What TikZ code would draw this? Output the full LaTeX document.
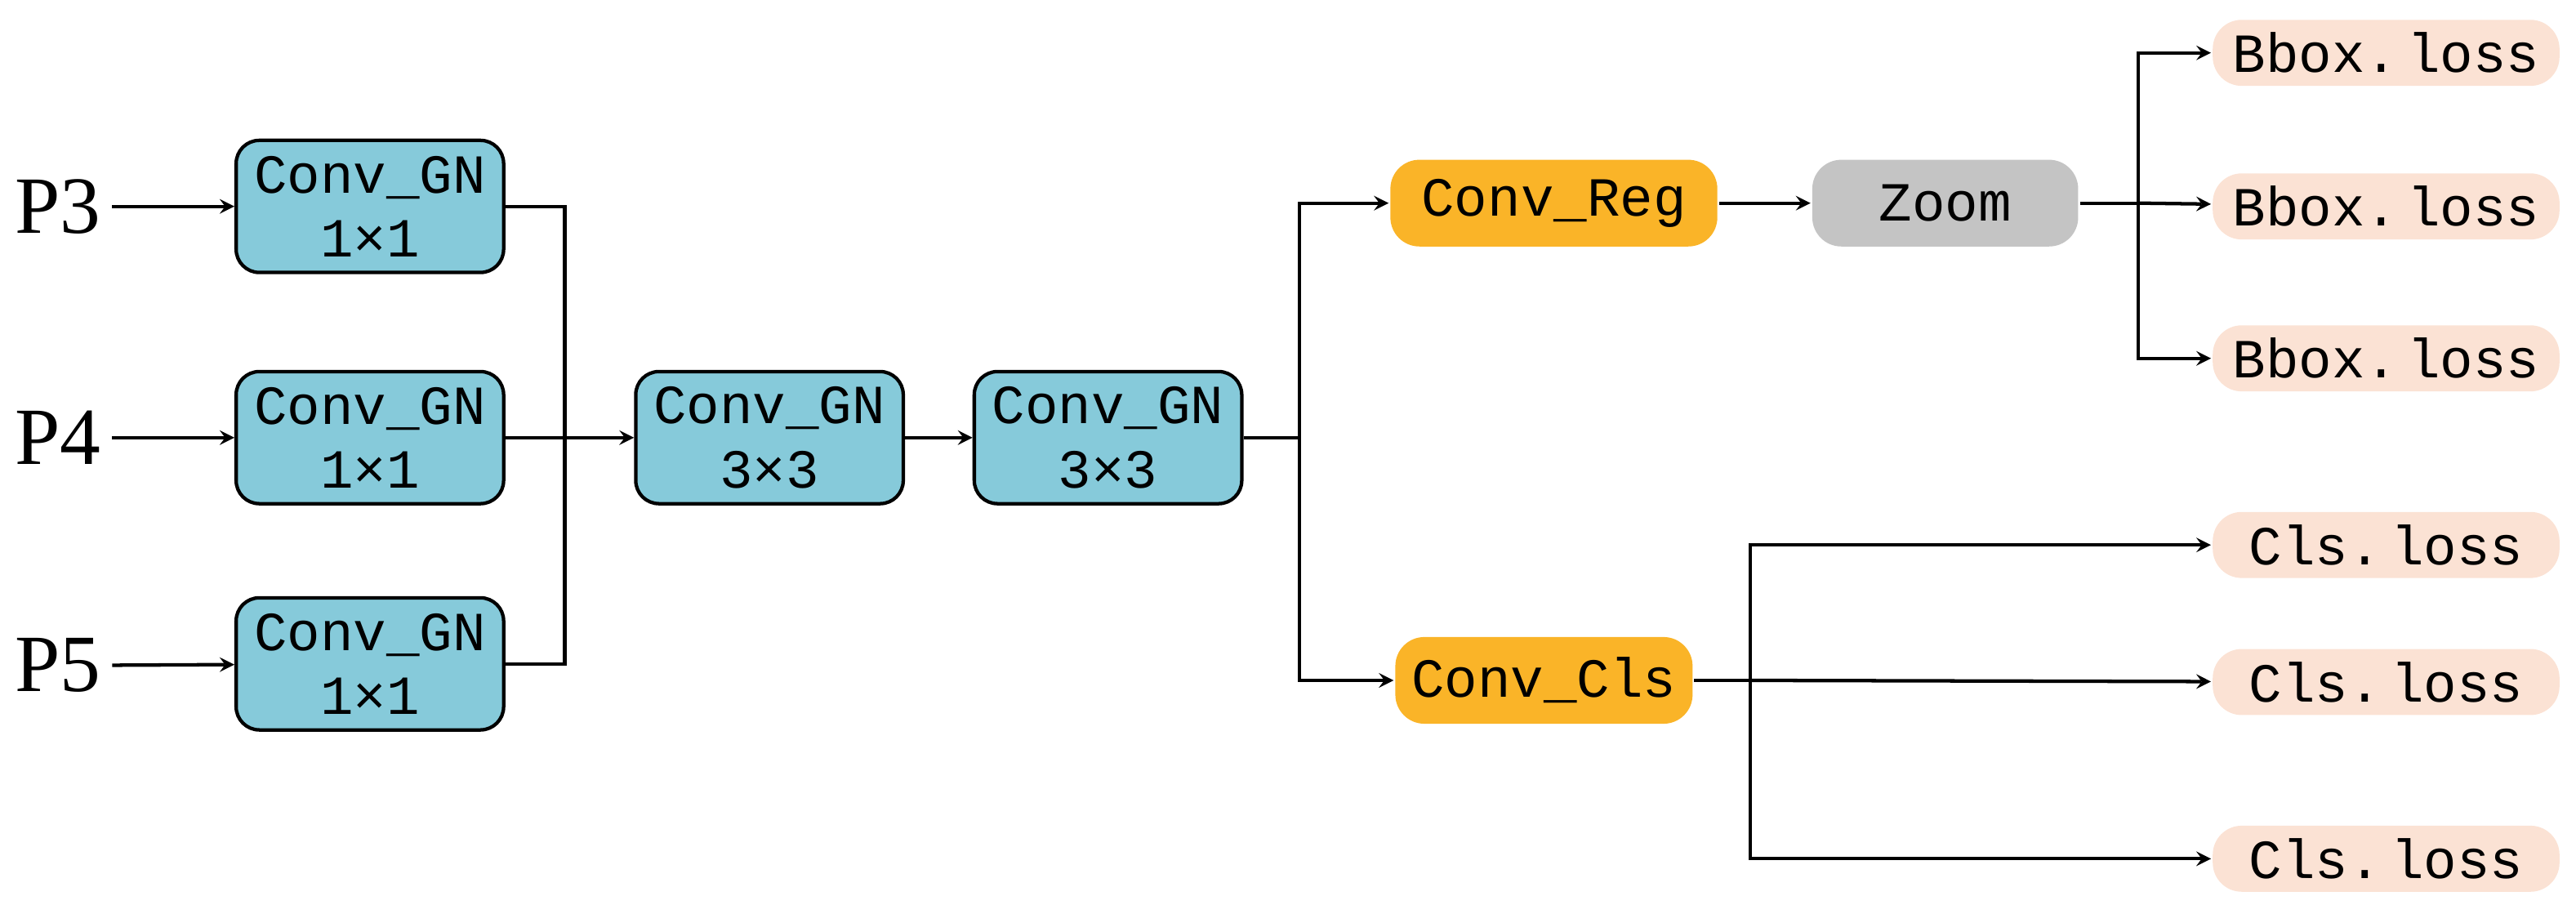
\documentclass[tikz,border=0pt]{standalone}
\usepackage{fontspec}
\setmainfont{Liberation Serif}
\newfontfamily\boxfont{Liberation Mono}
\usetikzlibrary{arrows,positioning}
\definecolor{gnblue}{RGB}{134,202,218}
\definecolor{regorange}{RGB}{250,180,40}
\definecolor{zoomgray}{RGB}{196,196,196}
\definecolor{losspeach}{RGB}{251,226,212}
\tikzstyle{arrow} = [thick,->,>=stealth]
\begin{document}
\begin{tikzpicture}[>=stealth,line width=1.2pt,
    gn/.style={shape=rectangle,draw,rounded corners=8pt,fill=gnblue,minimum width=3.24cm,minimum height=1.6cm,align=center,font=\boxfont\fontsize{19}{22}\selectfont,inner sep=0pt},
    head/.style={shape=rectangle,rounded corners=10pt,minimum height=1.05cm,font=\boxfont\fontsize{19}{22}\selectfont},
    loss/.style={shape=rectangle,rounded corners=10pt,fill=losspeach,minimum width=4.2cm,minimum height=0.8cm,font=\boxfont\fontsize{19}{22}\selectfont},
    inp/.style={font=\fontsize{28}{30}\selectfont}]
    \useasboundingbox (0,0) rectangle (31.2,-11.06);
    % create the nodes
    \node (p3)[inp] at (0.7,-2.5) {P3};
    \node (p4)[inp] at (0.7,-5.3) {P4};
    \node (p5)[inp] at (0.7,-8.06) {P5};
    \node (g1)[gn] at (4.48,-2.5) {Conv\_GN\\1×1};
    \node (g2)[gn] at (4.48,-5.3) {Conv\_GN\\1×1};
    \node (g3)[gn] at (4.48,-8.04) {Conv\_GN\\1×1};
    \node (g4)[gn] at (9.32,-5.3) {Conv\_GN\\3×3};
    \node (g5)[gn] at (13.42,-5.3) {Conv\_GN\\3×3};
    \node (reg)[head,fill=regorange,minimum width=3.96cm] at (18.82,-2.46) {Conv\_Reg};
    \node (cls)[head,fill=regorange,minimum width=3.6cm] at (18.7,-8.24) {Conv\_Cls};
    \node (zoom)[head,fill=zoomgray,minimum width=3.22cm] at (23.56,-2.46) {Zoom};
    \node (b1)[loss] at (28.9,-0.64) {Bbox.\,loss};
    \node (b2)[loss] at (28.9,-2.5) {Bbox.\,loss};
    \node (b3)[loss] at (28.9,-4.34) {Bbox.\,loss};
    \node (c1)[loss] at (28.9,-6.6) {Cls.\,loss};
    \node (c2)[loss] at (28.9,-8.26) {Cls.\,loss};
    \node (c3)[loss] at (28.9,-10.4) {Cls.\,loss};
    \coordinate (m1) at (6.84,-5.3);
    \coordinate (m2) at (15.74,-5.3);
    \coordinate (m3) at (25.9,-2.46);
    \coordinate (m4) at (21.2,-8.24);
    % connect the nodes
    \draw[->] (p3) -- (g1);
    \draw[->] (p4) -- (g2);
    \draw[->] (p5) -- (g3);
    \draw (g1.east) -| (m1) |- (g3.east);
    \draw[->] (g2) -- (g4);
    \draw[->] (g4) -- (g5);
    \draw (g5.east) -- (m2);
    \draw[->] (m2) |- (reg);
    \draw[->] (m2) |- (cls);
    \draw[->] (reg) -- (zoom);
    \draw (zoom.east) -- (m3);
    \draw[->] (m3) |- (b1);
    \draw[->] (m3) -- (b2);
    \draw[->] (m3) |- (b3);
    \draw (cls.east) -- (m4);
    \draw[->] (m4) |- (c1);
    \draw[->] (m4) -- (c2);
    \draw[->] (m4) |- (c3);
\end{tikzpicture}
\end{document}
